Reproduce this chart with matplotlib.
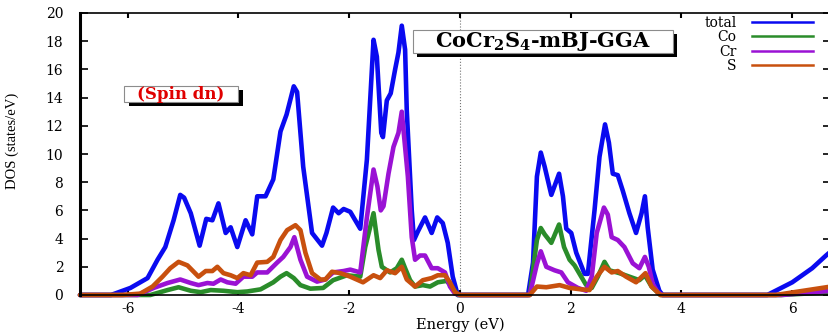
import matplotlib.pyplot as plt
from matplotlib.lines import Line2D
from matplotlib.patches import Rectangle

plt.rcParams['mathtext.fontset'] = 'dejavuserif'

# energies (eV) and DOS (states/eV) for each curve, spin down channel
e_total = [-6.86, -6.30, -5.95, -5.64, -5.46, -5.32, -5.17, -5.05, -4.98, -4.86,
           -4.70, -4.58, -4.47, -4.36, -4.23, -4.14, -4.02, -3.87, -3.75, -3.66,
           -3.51, -3.37, -3.24, -3.13, -3.00, -2.94, -2.83, -2.67, -2.49, -2.41,
           -2.29, -2.19, -2.10, -1.98, -1.80, -1.68, -1.56, -1.50, -1.42, -1.39,
           -1.32, -1.25, -1.17, -1.11, -1.05, -0.99, -0.96, -0.87, -0.83, -0.76,
           -0.63, -0.51, -0.41, -0.31, -0.22, -0.13, -0.04, 1.23, 1.32, 1.39,
           1.46, 1.53, 1.65, 1.79, 1.86, 1.92, 2.01, 2.10, 2.25, 2.31,
           2.43, 2.52, 2.62, 2.69, 2.76, 2.85, 2.94, 3.06, 3.18, 3.28,
           3.34, 3.39, 3.48, 3.60, 3.66, 5.55, 6.00, 6.36, 6.61, 6.70]
dos_total = [0, 0, 0.5, 1.2, 2.5, 3.4, 5.3, 7.1, 6.9, 5.8,
             3.5, 5.4, 5.3, 6.5, 4.4, 4.8, 3.4, 5.3, 4.3, 7.0,
             7.0, 8.2, 11.6, 12.8, 14.8, 14.4, 9.1, 4.4, 3.5, 4.4,
             6.2, 5.8, 6.1, 5.9, 4.7, 9.6, 18.1, 16.9, 11.5, 11.2,
             13.8, 14.3, 16.0, 17.2, 19.1, 17.4, 13.1, 6.0, 3.9, 4.5,
             5.5, 4.4, 5.5, 5.1, 3.7, 1.3, 0, 0, 2.3, 8.4,
             10.1, 9.1, 7.1, 8.6, 7.0, 4.7, 4.4, 3.0, 1.5, 1.5,
             6.0, 9.8, 12.1, 10.8, 8.6, 8.5, 7.4, 5.8, 4.4, 5.8,
             7.0, 4.8, 1.8, 0.3, 0, 0, 0.9, 1.9, 2.8, 3.1]

e_co = [-6.86, -5.59, -5.28, -5.08, -4.86, -4.68, -4.50, -4.27, -4.02, -3.84,
        -3.60, -3.37, -3.24, -3.13, -3.00, -2.88, -2.70, -2.47, -2.29, -2.04,
        -1.80, -1.71, -1.56, -1.47, -1.41, -1.26, -1.14, -1.05, -0.99, -0.90,
        -0.81, -0.67, -0.54, -0.40, -0.24, -0.15, -0.04, 1.26, 1.39, 1.46,
        1.53, 1.65, 1.79, 1.88, 1.98, 2.07, 2.19, 2.28, 2.38, 2.49,
        2.61, 2.70, 2.88, 3.06, 3.24, 3.34, 3.46, 3.62, 5.80, 6.70]
dos_co = [0, 0, 0.35, 0.55, 0.3, 0.2, 0.35, 0.3, 0.2, 0.25,
          0.4, 0.9, 1.3, 1.55, 1.2, 0.7, 0.45, 0.5, 1.05, 1.4,
          1.3, 3.4, 5.8, 3.2, 2.0, 1.6, 1.9, 2.5, 1.9, 1.05,
          0.6, 0.7, 0.6, 0.9, 1.0, 0.6, 0, 0, 3.9, 4.75,
          4.3, 3.7, 5.0, 3.4, 2.5, 2.1, 1.3, 0.7, 0.5, 1.3,
          2.35, 1.75, 1.55, 1.3, 1.05, 1.4, 0.6, 0, 0, 0.2]

e_cr = [-6.86, -5.82, -5.53, -5.28, -5.05, -4.86, -4.72, -4.56, -4.45, -4.32,
        -4.20, -4.05, -3.91, -3.75, -3.66, -3.48, -3.30, -3.19, -3.06, -2.99,
        -2.88, -2.76, -2.58, -2.43, -2.29, -2.10, -1.98, -1.80, -1.68, -1.56,
        -1.49, -1.43, -1.38, -1.29, -1.20, -1.11, -1.05, -0.94, -0.87, -0.81,
        -0.72, -0.63, -0.51, -0.40, -0.27, -0.18, -0.09, 0.0, 1.26, 1.39,
        1.46, 1.56, 1.71, 1.83, 1.95, 2.13, 2.28, 2.38, 2.47, 2.60,
        2.67, 2.74, 2.85, 2.97, 3.12, 3.24, 3.34, 3.41, 3.48, 3.57,
        3.65, 5.80, 6.70]
dos_cr = [0, 0, 0.5, 0.85, 1.1, 0.85, 0.7, 0.85, 0.8, 1.1,
          0.9, 0.8, 1.3, 1.3, 1.6, 1.6, 2.3, 2.7, 3.4, 4.1,
          2.5, 1.3, 0.95, 1.1, 1.6, 1.7, 1.8, 1.6, 5.5, 8.9,
          7.7, 6.0, 6.3, 8.6, 10.5, 11.5, 13.0, 8.4, 4.1, 2.5,
          2.8, 2.8, 1.9, 1.9, 1.6, 0.6, 0.1, 0, 0, 2.2,
          3.1, 2.0, 1.75, 1.6, 0.9, 0.5, 0.3, 1.3, 4.4, 6.2,
          5.7, 4.1, 3.9, 3.4, 2.25, 1.9, 2.7, 2.0, 0.8, 0.2,
          0, 0, 0.3]

e_s = [-6.86, -6.10, -5.77, -5.55, -5.37, -5.23, -5.08, -4.92, -4.72, -4.59,
       -4.47, -4.38, -4.27, -4.14, -4.02, -3.91, -3.78, -3.66, -3.48, -3.37,
       -3.24, -3.12, -2.97, -2.88, -2.79, -2.67, -2.52, -2.43, -2.31, -2.16,
       -1.98, -1.75, -1.56, -1.44, -1.32, -1.17, -1.05, -0.96, -0.81, -0.67,
       -0.51, -0.40, -0.27, -0.18, -0.09, 0.0, 1.26, 1.39, 1.56, 1.80,
       1.98, 2.19, 2.34, 2.47, 2.61, 2.74, 2.85, 3.00, 3.18, 3.35,
       3.46, 3.62, 5.70, 6.70]
dos_s = [0, 0, 0.1, 0.6, 1.3, 1.9, 2.35, 2.1, 1.3, 1.7,
         1.7, 2.0, 1.55, 1.4, 1.2, 1.55, 1.4, 2.3, 2.35, 2.7,
         3.9, 4.6, 4.95, 4.6, 3.0, 1.55, 1.1, 1.1, 1.65, 1.55,
         1.3, 0.9, 1.4, 1.2, 1.75, 1.55, 2.0, 1.1, 0.6, 1.05,
         1.2, 1.4, 1.4, 0.9, 0.2, 0, 0, 0.6, 0.55, 0.7,
         0.5, 0.4, 0.35, 1.3, 2.0, 1.6, 1.7, 1.3, 0.9, 1.55,
         0.6, 0, 0, 0.6]

labels = ['total', 'Co', 'Cr', 'S']
colors = ['#0a0af0', '#2a8c2a', '#9a12d4', '#c8500e']
x_ticks = [-6, -4, -2, 0, 2, 4, 6]
y_ticks = list(range(0, 21, 2))

serif = 'DejaVu Serif'
W, H = 829, 333

fig = plt.figure(figsize=(W / 100, H / 100), dpi=100)
ax = fig.add_axes([80 / W, 38 / H, 751 / W, 282 / H])

curves = [(e_total, dos_total), (e_co, dos_co), (e_cr, dos_cr), (e_s, dos_s)]
for (e, d), c in zip(curves, colors):
    ax.plot(e, d, color=c, lw=3.3, solid_joinstyle='round',
            solid_capstyle='round', clip_on=False)

ax.axvline(0, color='0.45', ls=':', lw=0.8, zorder=0)

ax.set_xlim(-6.86, 6.70)
ax.set_ylim(0, 20)
ax.set_xticks(x_ticks)
ax.set_yticks(y_ticks)
ax.set_xticklabels([str(t) for t in x_ticks], family=serif, fontsize=10)
ax.set_yticklabels([str(t) for t in y_ticks], family=serif, fontsize=10)
ax.tick_params(axis='x', direction='in', length=3.5, width=1.5, top=True, pad=5)
ax.tick_params(axis='y', direction='in', length=5.5, width=1.2, right=True, pad=12)
for side in ['top', 'right', 'bottom']:
    ax.spines[side].set_linewidth(1.2)
ax.spines['left'].set_linewidth(2.2)

ax.set_xlabel('Energy (eV)', family=serif, fontsize=10.5)
ax.xaxis.set_label_coords(0.506, -0.08)
ax.set_ylabel('DOS (states/eV)', family='Liberation Serif', fontsize=10.5)
ax.yaxis.set_label_coords(-0.081, 0.546)


# framed label with a black drop shadow, box given in pixels from top-left
def shadow_box(x0, y0, x1, y1, text, color, size, dx=4, dy=4):
    w, h = (x1 - x0) / W, (y1 - y0) / H
    fig.add_artist(Rectangle(((x0 + dx) / W, 1 - (y1 + dy) / H), w, h,
                             transform=fig.transFigure, fc='black', ec='none'))
    fig.add_artist(Rectangle((x0 / W, 1 - y1 / H), w, h,
                             transform=fig.transFigure, fc='white', ec='0.55', lw=0.8))
    fig.text((x0 + x1) / 2 / W, 1 - (y0 + y1) / 2 / H, text, ha='center', va='center',
             family=serif, fontsize=size, fontweight='bold', color=color)


shadow_box(413, 30, 673, 53, r'CoCr$_\mathbf{2}$S$_\mathbf{4}$-mBJ-GGA', 'black', 15)
shadow_box(124, 86, 238, 102, '(Spin dn)', '#e00000', 12, dx=5)

handles = [Line2D([], [], color=c, lw=1.8) for c in colors]
ax.legend(handles, labels, loc='upper right', markerfirst=False, frameon=False,
          bbox_to_anchor=(813 / W, 1 - 16 / H), bbox_transform=fig.transFigure,
          borderpad=0, borderaxespad=0, handlelength=4.4, handletextpad=1.1,
          labelspacing=0.02, prop={'family': serif, 'size': 10})

fig.savefig('out.png', dpi=100)
